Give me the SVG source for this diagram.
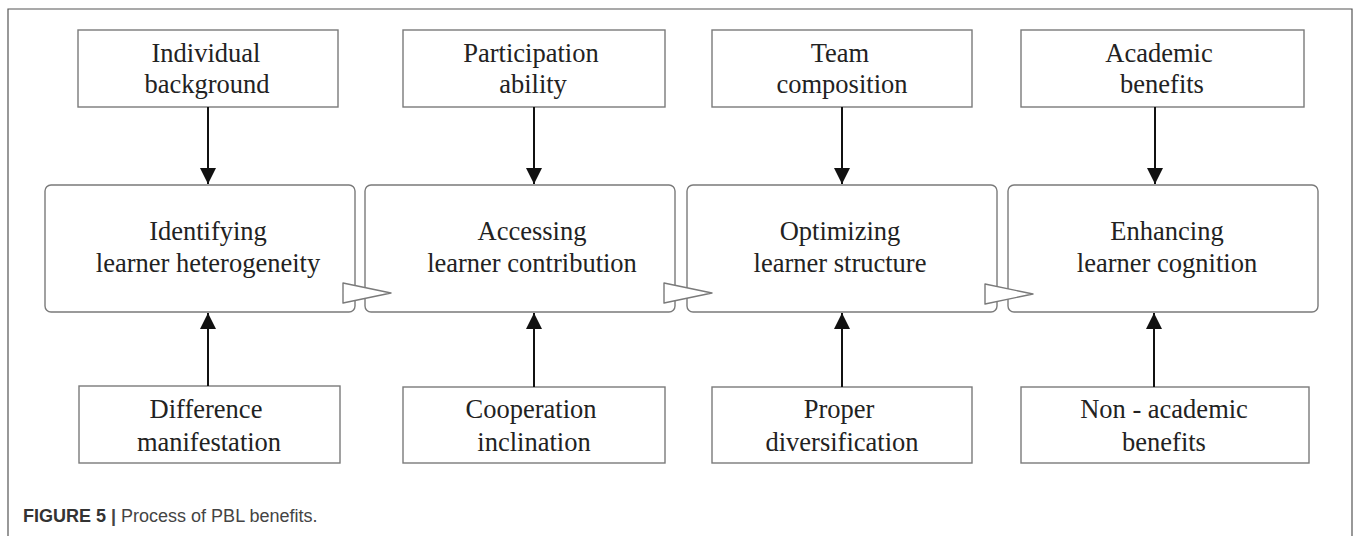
<svg xmlns="http://www.w3.org/2000/svg" width="1360" height="536" viewBox="0 0 1360 536">
  <defs>
    <style>
      .box { fill: #ffffff; stroke: #7a7a7a; stroke-width: 1.4; }
      .t { font-family: "Liberation Serif", "Times New Roman", serif; font-size: 26.5px; fill: #222222; text-anchor: middle; }
      .conn { stroke: #111111; stroke-width: 2; fill: none; }
      .open { fill: #ffffff; stroke: #7a7a7a; stroke-width: 1.4; stroke-linejoin: round; }
      .cap { font-family: "Liberation Sans", Arial, sans-serif; font-size: 18px; fill: #444444; }
    </style>
    <marker id="ah" markerUnits="userSpaceOnUse" markerWidth="16" markerHeight="16" viewBox="0 0 16 16" refX="16" refY="8" orient="auto">
      <path d="M0,0 L16,8 L0,16 Z" fill="#111111"/>
    </marker>
  </defs>
  <rect width="1360" height="536" fill="#ffffff"/>
  <path d="M8,540 L8,9 L1352,9 L1352,540" fill="none" stroke="#555555" stroke-width="1.2"/>

  <!-- main process boxes -->
  <g id="main1"><rect class="box" x="45" y="185" width="310" height="127" rx="6"/>
    <text class="t" x="208" y="240">Identifying</text><text class="t" x="208" y="272">learner heterogeneity</text></g>
  <g id="main2"><rect class="box" x="365" y="185" width="310" height="127" rx="6"/>
    <text class="t" x="532" y="240">Accessing</text><text class="t" x="532" y="272">learner contribution</text></g>
  <g id="main3"><rect class="box" x="687" y="185" width="310" height="127" rx="6"/>
    <text class="t" x="840" y="240">Optimizing</text><text class="t" x="840" y="272">learner structure</text></g>
  <g id="main4"><rect class="box" x="1008" y="185" width="310" height="127" rx="6"/>
    <text class="t" x="1167" y="240">Enhancing</text><text class="t" x="1167" y="272">learner cognition</text></g>

  <!-- top boxes -->
  <g id="top1"><rect class="box" x="78" y="30" width="260" height="77"/>
    <text class="t" x="206" y="62">Individual</text><text class="t" x="207" y="93">background</text></g>
  <g id="top2"><rect class="box" x="403" y="30" width="262" height="77"/>
    <text class="t" x="531" y="62">Participation</text><text class="t" x="533" y="93">ability</text></g>
  <g id="top3"><rect class="box" x="712" y="30" width="260" height="77"/>
    <text class="t" x="840" y="62">Team</text><text class="t" x="842" y="93">composition</text></g>
  <g id="top4"><rect class="box" x="1021" y="30" width="283" height="77"/>
    <text class="t" x="1159" y="62">Academic</text><text class="t" x="1162" y="93">benefits</text></g>

  <!-- bottom boxes -->
  <g id="bot1"><rect class="box" x="79" y="386" width="261" height="77"/>
    <text class="t" x="206" y="418">Difference</text><text class="t" x="209" y="451">manifestation</text></g>
  <g id="bot2"><rect class="box" x="403" y="387" width="262" height="76"/>
    <text class="t" x="531" y="418">Cooperation</text><text class="t" x="534" y="451">inclination</text></g>
  <g id="bot3"><rect class="box" x="712" y="387" width="260" height="76"/>
    <text class="t" x="839" y="418">Proper</text><text class="t" x="842" y="451">diversification</text></g>
  <g id="bot4"><rect class="box" x="1021" y="387" width="288" height="76"/>
    <text class="t" x="1164" y="418">Non - academic</text><text class="t" x="1164" y="451">benefits</text></g>

  <!-- connectors -->
  <g id="connectors">
    <line class="conn" x1="208" y1="107" x2="208" y2="184" marker-end="url(#ah)"/>
    <line class="conn" x1="534" y1="107" x2="534" y2="184" marker-end="url(#ah)"/>
    <line class="conn" x1="842" y1="107" x2="842" y2="184" marker-end="url(#ah)"/>
    <line class="conn" x1="1155" y1="107" x2="1155" y2="184" marker-end="url(#ah)"/>
    <line class="conn" x1="208" y1="386" x2="208" y2="313" marker-end="url(#ah)"/>
    <line class="conn" x1="534" y1="387" x2="534" y2="313" marker-end="url(#ah)"/>
    <line class="conn" x1="842" y1="387" x2="842" y2="313" marker-end="url(#ah)"/>
    <line class="conn" x1="1154" y1="387" x2="1154" y2="313" marker-end="url(#ah)"/>
    <polygon class="open" points="343,283 391,293 343,303"/>
    <polygon class="open" points="664,283 712,293 664,303"/>
    <polygon class="open" points="985,284 1033,294 985,304"/>
  </g>

  <text class="cap" x="23" y="522"><tspan font-weight="bold" fill="#333333">FIGURE 5</tspan> <tspan font-weight="bold">|</tspan> Process of PBL benefits.</text>
</svg>
